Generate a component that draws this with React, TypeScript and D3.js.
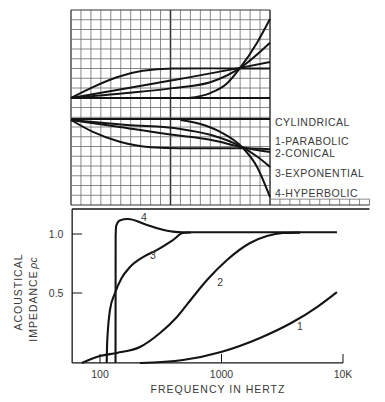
import React from 'react';
import * as d3 from 'd3';

// top panel: horn throat resistance (upper) and reactance (lower), x in grid cells
const upperFlat = [[0, 0], [20, 0]];
const upperParabolic = [[0, 0], [2.2, 1.1], [4.6, 2.1], [7.2, 2.75], [10.2, 2.98], [14, 3.0], [17, 3.0], [20, 3.0]];
const upperConical = [[0, 0], [8.5, 1.5], [17, 3.05], [20, 3.65]];
const upperExponential = [[0, 0], [5.6, 0.5], [10.2, 1.0], [14, 1.6], [17, 3.05], [20, 5.6]];
const upperHyperbolic = [[11.8, 0], [14, 0.5], [15.7, 1.5], [17, 3.05], [18.7, 5.6], [20, 8.0]];

const lowerFlat = [[0, 0.1], [20, 0.1]];
const lowerParabolic = [[0, 0], [2.2, -1.2], [4.9, -2.2], [8, -2.75], [11, -2.85], [17.2, -2.85], [20, -2.95]];
const lowerConical = [[0, 0], [4.9, -0.7], [10.2, -1.5], [14, -2.0], [17.2, -2.75], [20, -3.25]];
const lowerExponential = [[0, 0], [5.6, -0.5], [11, -0.9], [14, -1.5], [17.2, -2.75], [18.7, -3.7], [20, -4.75]];
const lowerHyperbolic = [[11, 0], [13, -0.4], [15, -1.2], [17.2, -2.75], [18.7, -4.75], [20, -7.8]];

const legendLabels = ['CYLINDRICAL', '1-PARABOLIC', '2-CONICAL', '3-EXPONENTIAL', '4-HYPERBOLIC'];

// bottom panel: acoustical impedance vs frequency
const curve1 = [[213, -0.093], [482, -0.068], [991, 0], [2075, 0.119], [3873, 0.254], [6110, 0.381], [8910, 0.508]];
const curve2 = [[71, -0.093], [100, -0.034], [138, -0.008], [213, 0.042], [312, 0.161], [430, 0.297], [582, 0.466], [760, 0.61], [1110, 0.78], [1718, 0.924], [2366, 0.983], [3206, 1.008], [4426, 1.012]];
const curve3 = [[113.5, -0.093], [114.3, 0.05], [115.7, 0.161], [120.8, 0.356], [132.9, 0.5], [150.7, 0.627], [176.4, 0.72], [226, 0.805], [293, 0.864], [398, 0.949], [482, 1.008], [560, 1.013]];
const curve4 = [[134.2, -0.093], [134.5, 0.98], [136, 1.07], [145, 1.115], [170, 1.127], [243.6, 1.076], [312, 1.042], [398, 1.02], [482, 1.015], [1000, 1.015], [8910, 1.015]];
const curveNames = ['1', '2', '3', '4'];
const curveLabelAt = [[4426, 0.22], [973, 0.593], [273, 0.822], [230, 1.144]];

const xTickValues = [100, 1000, 10000];
const xTickLabels = ['100', '1000', '10K'];
const yTickValues = [0.5, 1.0];
const yTickLabels = ['0.5', '1.0'];

const freqMin = 59;
const valueMin = -0.093;
const valueMax = 1.212;

const font = '"Liberation Sans", Arial, Helvetica, sans-serif';
const ink = '#141414';
const textInk = '#3a3a3a';

export default function App() {
  const gridX = d3.scaleLinear().domain([0, 20]).range([71, 270]);
  const gridY = d3.scaleLinear().domain([0, 20]).range([10, 205]);
  const upperY = d3.scaleLinear().domain([0, 8]).range([98, 19]);
  const lowerY = d3.scaleLinear().domain([0, -8]).range([120, 199]);

  const xScale = d3.scaleLog().domain([100, 10000]).range([100, 343]);
  const yScale = d3.scaleLinear().domain([0.5, 1.0]).range([293, 234]);

  const upperLine = d3.line().x(d => gridX(d[0])).y(d => upperY(d[1])).curve(d3.curveMonotoneX);
  const lowerLine = d3.line().x(d => gridX(d[0])).y(d => lowerY(d[1])).curve(d3.curveMonotoneX);
  const freqLine = d3.line().x(d => xScale(d[0])).y(d => yScale(d[1])).curve(d3.curveMonotoneX);

  const cols = d3.range(0, 31);
  const rows = d3.range(0, 21);

  const x0 = xScale(freqMin);
  const x1 = xScale(10000);
  const yBottom = yScale(valueMin);
  const yTop = yScale(valueMax);
  const stripTop = gridY(19.4);

  const legendY = [126, 145, 157, 177, 197];

  return (
    <svg width={385} height={402} style={{ position: 'absolute', left: 0, top: 0, background: '#fff' }}>
      <rect width={385} height={402} fill="#fff" />
      {/* graph paper */}
      <g>
        {cols.map(i => (
          <line key={'v' + i} x1={gridX(i)} x2={gridX(i)}
            y1={i <= 20 ? gridY(0) : stripTop} y2={gridY(20)}
            strokeWidth={i === 10 || i === 20 ? 1.5 : i === 0 ? 1.3 : 0.8}
            stroke={i === 10 || i === 20 || i === 0 ? '#333' : '#6a6a6a'} />
        ))}
        {rows.map(j => (
          <line key={'h' + j} y1={gridY(j)} y2={gridY(j)} x1={gridX(0)}
            x2={j === 20 ? gridX(30) : gridX(20)}
            strokeWidth={j === 0 || j === 20 ? 1.2 : 0.8}
            stroke={j === 0 || j === 20 ? '#333' : '#6a6a6a'} />
        ))}
        <line x1={gridX(20)} x2={gridX(30)} y1={stripTop} y2={stripTop} stroke="#6a6a6a" strokeWidth={0.8} />
      </g>
      <g fill="none" stroke={ink} strokeWidth={2}>
        {[upperFlat, upperParabolic, upperConical, upperExponential, upperHyperbolic].map((d, i) => (
          <path key={'u' + i} d={upperLine(d) || ''} />
        ))}
        {[lowerFlat, lowerParabolic, lowerConical, lowerExponential, lowerHyperbolic].map((d, i) => (
          <path key={'l' + i} d={lowerLine(d) || ''} />
        ))}
      </g>
      <g fontFamily={font} fontSize={10.5} fill={textInk} letterSpacing={0.5}>
        {legendLabels.map((t, i) => (
          <text key={t} x={275} y={legendY[i]}>{t}</text>
        ))}
      </g>

      {/* impedance chart frame */}
      <g stroke={ink} strokeWidth={1.3} fill="none">
        <line x1={x0} x2={x0} y1={yTop} y2={yBottom} />
        <line x1={x0} x2={x1} y1={yBottom} y2={yBottom} />
        <line x1={x0} x2={gridX(30)} y1={yTop} y2={yTop} />
        {xTickValues.map(v => (
          <line key={v} x1={xScale(v)} x2={xScale(v)} y1={yBottom} y2={yBottom - 9} strokeWidth={1} />
        ))}
        {yTickValues.map(v => (
          <line key={v} x1={x0} x2={x0 + 10} y1={yScale(v)} y2={yScale(v)} strokeWidth={1} />
        ))}
      </g>
      <g fill="none" stroke={ink} strokeWidth={2.1}>
        {[curve1, curve2, curve3, curve4].map((d, i) => (
          <path key={'c' + i} d={freqLine(d) || ''} />
        ))}
      </g>
      <g fontFamily={font} fontSize={10.5} fill={textInk} textAnchor="middle">
        {curveNames.map((t, i) => (
          <text key={t} x={xScale(curveLabelAt[i][0])} y={yScale(curveLabelAt[i][1]) + 4}>{t}</text>
        ))}
        {xTickValues.map((v, i) => (
          <text key={v} x={xScale(v)} y={yBottom + 15}>{xTickLabels[i]}</text>
        ))}
        {yTickValues.map((v, i) => (
          <text key={v} x={x0 - 16} y={yScale(v) + 4}>{yTickLabels[i]}</text>
        ))}
        <text x={218} y={393} letterSpacing={1}>FREQUENCY IN HERTZ</text>
        <text transform="translate(22,292) rotate(-90)" letterSpacing={1}>ACOUSTICAL</text>
        <text transform="translate(37,306) rotate(-90)" letterSpacing={1}>IMPEDANCE</text>
        <text transform="translate(37,263) rotate(-90)" fontStyle="italic">ρc</text>
      </g>
    </svg>
  );
}
